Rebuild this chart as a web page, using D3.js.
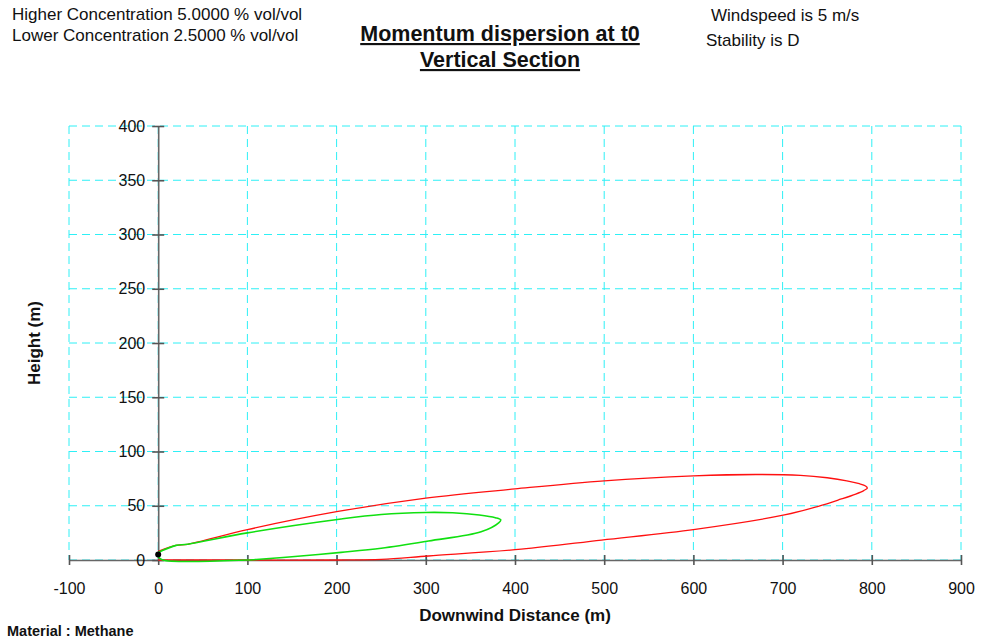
<!DOCTYPE html>
<html>
<head>
<meta charset="utf-8">
<script src="https://cdn.jsdelivr.net/npm/d3@7"></script>
<style>
  html, body { margin: 0; padding: 0; background: #fff; }
  svg { display: block; font-family: "Liberation Sans", Arial, sans-serif; }
</style>
</head>
<body>
<svg id="chart" width="982" height="641"></svg>
<script>
// Axis ticks
const xTicks = [-100, 0, 100, 200, 300, 400, 500, 600, 700, 800, 900];
const yTicks = [0, 50, 100, 150, 200, 250, 300, 350, 400];

// Lower concentration (2.5 % vol/vol) contour, red: out along the top, back along the bottom
const lowX = [0, 20, 33, 100, 200, 300, 400, 500, 600, 670, 720, 750, 772, 786, 793, 795, 791, 782, 765, 740, 702, 602, 497, 407, 303, 250, 200, 100, 0];
const lowY = [8, 13.5, 14.5, 28, 44.5, 57, 65.5, 73, 77.5, 78.8, 78, 75.8, 73, 70.3, 68.2, 66.3, 64, 60.8, 56, 49.5, 41.5, 28.3, 18.4, 10, 3.7, 0.5, 0, 0, 0];

// Higher concentration (5 % vol/vol) contour, green
const highX = [0, 20, 33, 100, 205, 250, 300, 330, 360, 378, 384, 382, 362, 303, 250, 205, 150, 110, 100, 5, 0];
const highY = [7, 13.5, 14.5, 25, 37.8, 42, 43.8, 43.5, 41.5, 39, 37, 34.5, 26, 17.5, 10.8, 7, 3, 0.5, 0, 0, 3];

// Release point
const sourceX = [0];
const sourceY = [5];

const svg = d3.select("#chart");
const x = d3.scaleLinear().domain([-100, 900]).range([69, 961]);
const y = d3.scaleLinear().domain([0, 400]).range([560, 126]);

// Grid
const grid = svg.append("g").attr("stroke", "#2ef0f6").attr("stroke-width", 1).attr("stroke-dasharray", "8,5");
grid.selectAll("line.v").data(xTicks).join("line").attr("class", "v")
  .attr("x1", d => x(d)).attr("x2", d => x(d)).attr("y1", y(400)).attr("y2", y(0));
grid.selectAll("line.h").data(yTicks).join("line").attr("class", "h")
  .attr("x1", x(-100)).attr("x2", x(900)).attr("y1", d => y(d)).attr("y2", d => y(d));

// Axes
const xAxis = d3.axisBottom(x).tickValues(xTicks).tickFormat(d => String(d)).tickSize(0).tickPadding(23);
const gx = svg.append("g").attr("transform", `translate(0,${y(0)})`).call(xAxis);
gx.select(".domain").attr("stroke", "#666").attr("stroke-width", 1.6);
gx.selectAll("text").attr("font-size", 16).attr("fill", "#111").attr("font-family", "Liberation Sans, Arial, sans-serif");
gx.selectAll(".tick").append("line").attr("y1", -5).attr("y2", 5).attr("stroke", "#555").attr("stroke-width", 1.6);

const yAxis = d3.axisLeft(y).tickValues(yTicks).tickFormat(d => String(d)).tickSize(0).tickPadding(13);
const gy = svg.append("g").attr("transform", `translate(${x(0)},0)`).call(yAxis);
gy.select(".domain").attr("stroke", "#666").attr("stroke-width", 1.6);
gy.selectAll("text").attr("font-size", 16).attr("fill", "#111").attr("font-family", "Liberation Sans, Arial, sans-serif");
gy.selectAll(".tick").append("line").attr("x1", -6).attr("x2", 6).attr("stroke", "#555").attr("stroke-width", 1.6);

// Contours
const line = d3.line().x(d => x(d[0])).y(d => y(d[1])).curve(d3.curveCatmullRom.alpha(0.5));
svg.append("path").datum(d3.zip(lowX, lowY))
  .attr("d", line).attr("fill", "none").attr("stroke", "#ff1010").attr("stroke-width", 1.3);
svg.append("path").datum(d3.zip(highX, highY))
  .attr("d", line).attr("fill", "none").attr("stroke", "#10e010").attr("stroke-width", 1.6);

svg.selectAll("circle.src").data(d3.zip(sourceX, sourceY)).join("circle").attr("class", "src")
  .attr("cx", d => x(d[0])).attr("cy", d => y(d[1])).attr("r", 3).attr("fill", "#000");

// Header texts
const txt = (t, px, py, opts = {}) => svg.append("text").attr("x", px).attr("y", py)
  .attr("font-size", opts.size || 17).attr("font-weight", opts.bold ? "bold" : "normal")
  .attr("text-anchor", opts.anchor || "start").attr("fill", "#111")
  .attr("text-decoration", opts.underline ? "underline" : null).text(t);

txt("Higher Concentration 5.0000 % vol/vol", 12, 20);
txt("Lower Concentration 2.5000 % vol/vol", 12, 41);
txt("Momentum dispersion at t0", 500, 41, { size: 21.5, bold: true, anchor: "middle", underline: true });
txt("Vertical Section", 500, 67, { size: 21.5, bold: true, anchor: "middle", underline: true });
txt("Windspeed is 5 m/s", 711, 21);
txt("Stability is D", 706, 46);
txt("Downwind Distance (m)", 515, 621, { size: 17, bold: true, anchor: "middle" });
txt("Material : Methane", 7, 636, { size: 14.5, bold: true });

svg.append("text").attr("transform", "translate(40,343) rotate(-90)")
  .attr("text-anchor", "middle").attr("font-size", 17).attr("font-weight", "bold").attr("fill", "#111")
  .text("Height (m)");
</script>
</body>
</html>
